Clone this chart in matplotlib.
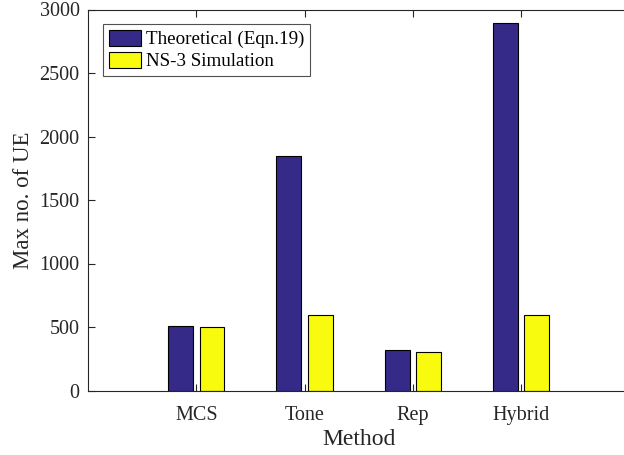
import matplotlib
matplotlib.use("Agg")
import matplotlib.pyplot as plt
import numpy as np

categories = ["MCS", "Tone", "Rep", "Hybrid"]
theoretical = [505, 1850, 318, 2893]
simulation = [497, 598, 300, 598]
series_names = ["Theoretical (Eqn.19)", "NS-3 Simulation"]
yticks = [0, 500, 1000, 1500, 2000, 2500, 3000]

plt.rcParams['font.family'] = ['Liberation Serif', 'DejaVu Serif']
plt.rcParams['mathtext.fontset'] = 'stix'

fig = plt.figure(figsize=(6.24, 4.55), dpi=100)
ax = fig.add_axes([88/624, 1-390.5/455, (629.5-88)/624, (390.5-9.5)/455])

x = np.arange(1, len(categories) + 1)
w = 0.23
off = 0.145
ax.bar(x - off, theoretical, w, color='#352a87', edgecolor='black', linewidth=0.8, label=series_names[0])
ax.bar(x + off, simulation, w, color='#f9fb0e', edgecolor='black', linewidth=0.8, label=series_names[1])

ax.set_xlim(0, 5)
ax.set_ylim(0, 3000)
ax.set_xticks(x)
ax.set_xticklabels(categories)
ax.set_yticks(yticks)
ax.tick_params(direction='in', length=5, width=0.8, colors='#262626', labelsize=14.5,
               top=True, right=False, pad=6)
ax.tick_params(axis='x', pad=11)
for s in ax.spines.values():
    s.set_color('#262626')
    s.set_linewidth(0.8)
ax.spines['right'].set_visible(False)

ax.set_xlabel("Method", fontsize=17, color='#262626', labelpad=3)
ax.set_ylabel("Max no. of UE", fontsize=16.5, color='#262626', labelpad=4)

leg = ax.legend(loc='upper left', bbox_to_anchor=((103-88)/541.5, (390.5-24)/381),
                fontsize=13.7, frameon=True, fancybox=False, edgecolor='#262626',
                handlelength=1.7, handleheight=0.9, handletextpad=0.27, borderpad=0.3,
                labelspacing=0.2, borderaxespad=0)
leg.get_frame().set_linewidth(0.8)

fig.savefig("out.png", dpi=100)
